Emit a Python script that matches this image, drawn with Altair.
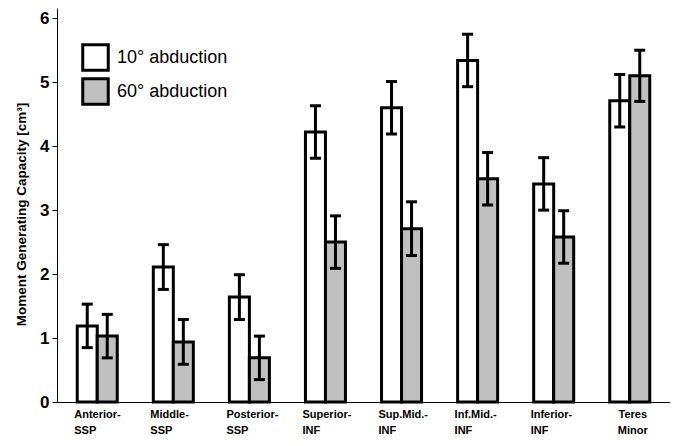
import altair as alt
import pandas as pd

categories = ["Anterior-|SSP", "Middle-|SSP", "Posterior-|SSP", "Superior-|INF",
              "Sup.Mid.-|INF", "Inf.Mid.-|INF", "Inferior-|INF", "Teres|Minor"]
conditions = ["10° abduction", "60° abduction"]
abd10 = [1.19, 2.11, 1.64, 4.22, 4.60, 5.34, 3.41, 4.71]
abd60 = [1.03, 0.94, 0.69, 2.50, 2.71, 3.49, 2.58, 5.10]
err10 = [0.34, 0.35, 0.35, 0.41, 0.41, 0.41, 0.41, 0.41]
err60 = [0.34, 0.35, 0.34, 0.41, 0.42, 0.41, 0.41, 0.40]
y_ticks = [0, 1, 2, 3, 4, 5, 6]
y_title = "Moment Generating Capacity [cm³]"

rows = []
for i, c in enumerate(categories):
    rows.append(dict(muscle=c, cond=conditions[0], value=abd10[i], err=err10[i]))
    rows.append(dict(muscle=c, cond=conditions[1], value=abd60[i], err=err60[i]))
df = pd.DataFrame(rows)
df["lo"] = df["value"] - df["err"]
df["hi"] = df["value"] + df["err"]

FONT = "Liberation Sans"

x_enc = alt.X(
    "muscle:N", sort=categories, title=None,
    scale=alt.Scale(paddingInner=0.474, paddingOuter=0.266),
    axis=alt.Axis(
        ticks=False, domainColor="black", domainWidth=1,
        labelAngle=0, labelFont=FONT, labelFontSize=11, labelFontWeight="bold",
        labelColor="black", labelBaseline="top", labelPadding=6, labelLineHeight=16,
        labelOverlap=False,
        labelExpr="split(datum.label, '|')",
        labelAlign={"condition": {"test": "datum.value == 'Teres|Minor'", "value": "center"}, "value": "left"},
        labelOffset={"condition": {"test": "datum.value == 'Teres|Minor'", "value": 3}, "value": -23},
    ),
)
xo_enc = alt.XOffset("cond:N", sort=conditions, scale=alt.Scale(paddingInner=0, paddingOuter=0))

y_scale = alt.Scale(domain=[0, 6.16], nice=False, zero=True)
y_axis = alt.Axis(
    values=y_ticks, grid=False, domainColor="black", domainWidth=1,
    tickColor="black", tickSize=5, tickWidth=1,
    labelFont=FONT, labelFontSize=17, labelFontWeight="bold", labelColor="black", labelPadding=3,
    titleFont=FONT, titleFontSize=13.5, titleFontWeight="bold", titleColor="black", titlePadding=11,
    titleY=206, titleAlign="center",
)

def yenc(field):
    return alt.Y(field, title=y_title, scale=y_scale, axis=y_axis)

base = alt.Chart(df)

bars = base.mark_bar(stroke="black", strokeWidth=3).encode(
    x=x_enc, xOffset=xo_enc, y=yenc("value:Q"),
    fill=alt.Fill(
        "cond:N", sort=conditions,
        scale=alt.Scale(domain=conditions, range=["white", "#c0c0c0"]),
        legend=alt.Legend(
            title=None, orient="none", legendX=24, legendY=35,
            symbolType="square", symbolSize=650, symbolStrokeColor="black", symbolStrokeWidth=3,
            labelFont=FONT, labelFontSize=18, labelColor="black", labelOffset=7,
            rowPadding=-5, padding=0,
        ),
    ),
)

rules = base.mark_rule(color="black", strokeWidth=3).encode(
    x=x_enc, xOffset=xo_enc, y=yenc("lo:Q"), y2="hi:Q"
)
cap_hi = base.mark_tick(color="black", thickness=3, size=11, opacity=1).encode(
    x=x_enc, xOffset=xo_enc, y=yenc("hi:Q")
)
cap_lo = base.mark_tick(color="black", thickness=3, size=11, opacity=1).encode(
    x=x_enc, xOffset=xo_enc, y=yenc("lo:Q")
)

chart = alt.layer(bars, rules, cap_hi, cap_lo).properties(
    width=613, height=394,
    autosize=alt.AutoSizeParams(type="none"),
    padding={"left": 49, "top": 0, "right": 0, "bottom": 36},
    background="white",
).configure_view(stroke=None)

chart.save("out.html", embed_options={"renderer": "svg", "actions": False})
